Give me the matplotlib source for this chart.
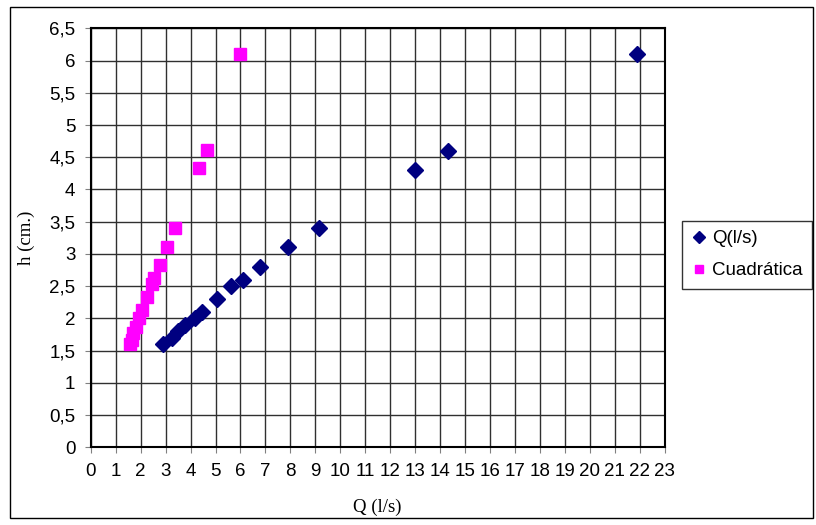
import matplotlib.pyplot as plt
from matplotlib.patches import Rectangle
from matplotlib.ticker import MultipleLocator, FuncFormatter

# caudal medido (l/s) y altura (cm)
q_medido = [2.91, 3.25, 3.50, 3.78, 4.18, 4.45, 5.05, 5.63, 6.10, 6.78, 7.90, 9.15, 13.0, 14.3, 21.87]
h_medido = [1.60, 1.70, 1.80, 1.90, 2.00, 2.10, 2.30, 2.50, 2.60, 2.80, 3.10, 3.40, 4.30, 4.60, 6.10]

# ajuste cuadratico
q_cuad = [1.57, 1.64, 1.71, 1.80, 1.94, 2.07, 2.24, 2.44, 2.54, 2.78, 3.07, 3.38, 4.34, 4.65, 6.00]
h_cuad = [1.60, 1.66, 1.77, 1.87, 2.00, 2.13, 2.33, 2.53, 2.62, 2.83, 3.10, 3.40, 4.33, 4.62, 6.10]

plt.rcParams['font.family'] = ['Liberation Sans', 'DejaVu Sans']

fig = plt.figure(figsize=(8.16, 5.25), dpi=100)
ax = fig.add_axes([0.1112, 0.148, 0.7034, 0.798])

ax.plot(q_medido, h_medido, 'D', color='#000080', markersize=8, linestyle='none',
        label='Q(l/s)', zorder=3)
ax.plot(q_cuad, h_cuad, 's', color='#ff00ff', markersize=8, linestyle='none',
        label='Cuadrática', zorder=3)

ax.set_xlim(0, 23)
ax.set_ylim(0, 6.5)
ax.xaxis.set_major_locator(MultipleLocator(1))
ax.yaxis.set_major_locator(MultipleLocator(0.5))
ax.yaxis.set_major_formatter(FuncFormatter(lambda v, p: ('%g' % v).replace('.', ',')))
ax.grid(True, color='#303030', linewidth=1)
ax.set_axisbelow(True)
ax.tick_params(direction='out', length=4, color='#808080', labelsize=13.5, pad=7)
for s in ax.spines.values():
    s.set_linewidth(1.5)
    s.set_color('black')

ax.set_xlabel('Q (l/s)', family='Liberation Serif', fontsize=13.5, labelpad=14)
ax.set_ylabel('h (cm.)', family='Liberation Serif', fontsize=13.5, labelpad=10)

leg = ax.legend(loc='center left', bbox_to_anchor=(1.03, 0.46), fontsize=13.5, frameon=True,
                fancybox=False, edgecolor='black', borderpad=0.5, handletextpad=0.3,
                handlelength=0.8, labelspacing=0.8, borderaxespad=0, markerscale=0.8)
leg.get_frame().set_linewidth(1.0)

# marco exterior del grafico
fig.patches.append(Rectangle((10 / 816, 7 / 525), 803 / 816, 511 / 525, transform=fig.transFigure,
                             fill=False, edgecolor='black', linewidth=1))

fig.savefig('out.png', dpi=100)
